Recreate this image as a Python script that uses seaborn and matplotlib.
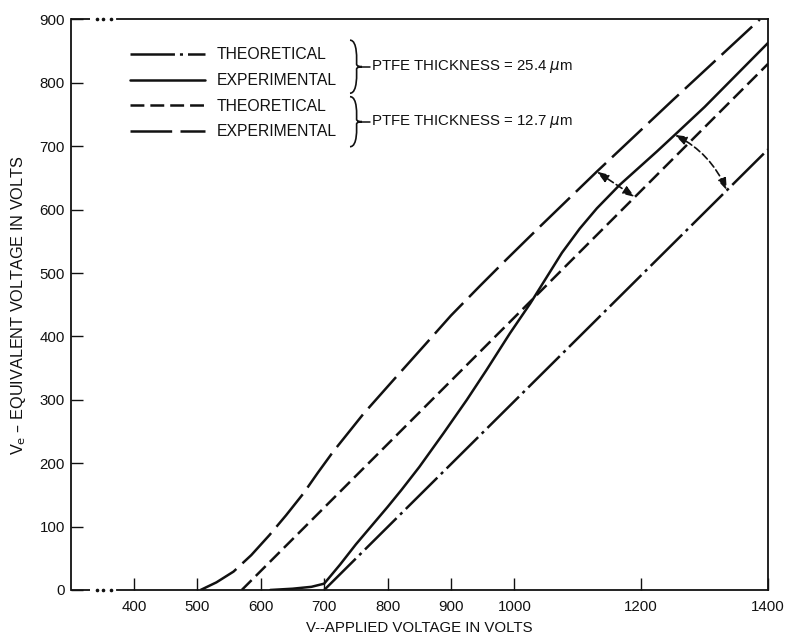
import numpy as np
import matplotlib
matplotlib.use("Agg")
import matplotlib.pyplot as plt
import matplotlib.transforms as mtransforms
from matplotlib.path import Path
from matplotlib.patches import PathPatch
import seaborn as sns

# ---- data: applied voltage V and equivalent voltage V_e (volts) ----
theo_254_v = [700, 1400]
theo_254_ve = [0, 695]

exp_254_v = [615, 650, 680, 700, 725, 750, 800, 822, 850, 888, 925, 956,
             993, 1025, 1050, 1075, 1103, 1130, 1166, 1225, 1253, 1300, 1400]
exp_254_ve = [0, 2, 5, 10, 40, 72, 131, 158, 194, 247, 300, 347,
              405, 452, 492, 532, 570, 602, 639, 692, 718, 762, 863]

theo_127_v = [570, 1400]
theo_127_ve = [0, 830]

exp_127_v = [505, 530, 557, 585, 614, 640, 667, 690, 714, 762, 809, 860,
             900, 946, 988, 1040, 1130, 1250, 1387]
exp_127_ve = [0, 12, 29, 55, 87, 118, 152, 185, 218, 278, 331, 388,
              433, 480, 522, 573, 660, 773, 900]

x_ticks = [400, 500, 600, 700, 800, 900, 1000, 1200, 1400]
y_ticks = [0, 100, 200, 300, 400, 500, 600, 700, 800, 900]

labels = ["THEORETICAL", "EXPERIMENTAL", "THEORETICAL", "EXPERIMENTAL"]
group_labels = ["PTFE THICKNESS = 25.4 $\\mu$m", "PTFE THICKNESS = 12.7 $\\mu$m"]

# ---- style ----
sns.set_style("ticks")
plt.rcParams["font.family"] = ["Liberation Sans", "DejaVu Sans"]
plt.rcParams["mathtext.fontset"] = "dejavusans"
plt.rcParams["lines.scale_dashes"] = False

FS = 10.8
LEG_FS = 11.3
LW = 1.8
INK = "#111111"

fig = plt.figure(figsize=(7.86, 6.35), dpi=100)
ax = fig.add_axes([0.0898, 0.0709, 0.8873, 0.8984])

styles = [
    (0, (32, 3.6, 2.2, 3.6)),   # dash-dot
    "-",                        # solid
    (0, (10, 4.3)),             # short dashes
    (0, (30, 6)),               # long dashes
]
series = [(theo_254_v, theo_254_ve), (exp_254_v, exp_254_ve),
          (theo_127_v, theo_127_ve), (exp_127_v, exp_127_ve)]

for (xs, ys), ls, lab in zip(series, styles, labels):
    sns.lineplot(x=xs, y=ys, ax=ax, color=INK, lw=LW, linestyle=ls,
                 sort=False, estimator=None, label=lab)

ax.set_xlim(300, 1400)
ax.set_ylim(0, 900)
ax.set_xticks(x_ticks)
ax.set_yticks(y_ticks)
ax.tick_params(direction="in", length=8.5, width=1.0, labelsize=FS,
               colors=INK)
ax.tick_params(axis="x", pad=7)
ax.tick_params(axis="y", pad=4)

for s in ax.spines.values():
    s.set_linewidth(1.3)
    s.set_color(INK)

# broken top and bottom axis lines near the origin
BREAK_END = 373
ax.spines["top"].set_bounds(BREAK_END, 1400)
ax.spines["bottom"].set_bounds(BREAK_END, 1400)
for yv in (0, 900):
    ax.plot([300, 330], [yv, yv], color=INK, lw=1.3, clip_on=False,
            solid_capstyle="butt")
    ax.plot([341, 351, 364], [yv] * 3, ls="none", marker="o", ms=1.6,
            color=INK, clip_on=False)

ax.set_xlabel("V--APPLIED VOLTAGE IN VOLTS", fontsize=FS, color=INK,
              labelpad=5)
ax.set_ylabel("V$_\\mathrm{e}$ \u2013 EQUIVALENT VOLTAGE IN VOLTS",
              fontsize=11.7, color=INK, labelpad=8)

# ---- legend ----
handles, _ = ax.get_legend_handles_labels()
leg = ax.legend(handles, labels, loc="upper left",
                bbox_to_anchor=(0.0852, 0.951), frameon=False,
                borderpad=0, borderaxespad=0, handlelength=4.8,
                handletextpad=0.72, labelspacing=0.68, fontsize=LEG_FS)
for t in leg.get_texts():
    t.set_color(INK)


def brace(x_px, y_px, height, width=12):
    """Right-facing curly brace with its tip at (x_px, y_px), pixels from the axes' top-left."""
    h = height / 2.0
    w = width
    verts = [
        (-w, h), (-w * 0.35, h), (-w * 0.45, h * 0.15 + 2), (-w * 0.45, h * 0.1),
        (-w * 0.45, 0.02 * h), (-w * 0.2, 0), (0, 0),
        (-w * 0.2, 0), (-w * 0.45, -0.02 * h), (-w * 0.45, -h * 0.1),
        (-w * 0.45, -h * 0.15 - 2), (-w * 0.35, -h), (-w, -h),
    ]
    codes = [Path.MOVETO] + [Path.CURVE4] * 12
    path = Path(verts, codes)
    fx = (x_px - 70.6) / 697.4
    fy = (590 - y_px) / 570.5
    tr = mtransforms.ScaledTranslation(fx, fy, ax.transAxes)
    patch = PathPatch(path, facecolor="none", edgecolor=INK, lw=1.2,
                      transform=mtransforms.Affine2D() + tr, clip_on=False)
    ax.add_patch(patch)
    ax.plot([fx, fx + 8 / 697.4], [fy, fy], transform=ax.transAxes,
            color=INK, lw=1.1, clip_on=False)
    return fx + 9 / 697.4, fy


for (tip_y, span), glabel in zip([(66.7, 53), (121.7, 50)], group_labels):
    tx, ty = brace(362, tip_y, span)
    ax.text(tx, ty, glabel, transform=ax.transAxes, fontsize=FS,
            va="center", ha="left", color=INK)

# ---- double-headed arrows marking the gap between theory and experiment ----
def on(xs, ys, v):
    return float(np.interp(v, xs, ys))

a1 = ((1130, on(exp_127_v, exp_127_ve, 1130)),
      (1190, on(theo_127_v, theo_127_ve, 1190)))
a2 = ((1253, on(exp_254_v, exp_254_ve, 1253)),
      (1335, on(theo_254_v, theo_254_ve, 1335)))
for (p, q), rad in ((a1, 0.0), (a2, -0.18)):
    ax.annotate("", xy=q, xytext=p,
                arrowprops=dict(arrowstyle="<|-|>,head_length=0.7,head_width=0.25",
                                color=INK, lw=1.2, linestyle=(0, (5, 2.5)),
                                shrinkA=0, shrinkB=0,
                                connectionstyle=f"arc3,rad={rad}"))

fig.savefig("out.png", dpi=100, facecolor="white")
